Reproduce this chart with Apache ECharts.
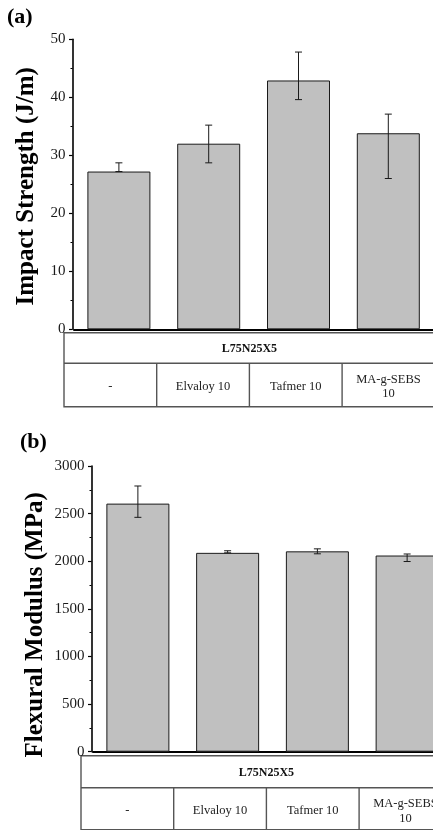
<!DOCTYPE html>
<html>
<head>
<meta charset="utf-8">
<script src="https://cdn.jsdelivr.net/npm/echarts@6/dist/echarts.min.js"></script>
<style>
html,body{margin:0;padding:0;background:#fff;overflow:hidden;}
#chart{width:460px;height:830px;}
</style>
</head>
<body>
<div id="chart"></div>
<script>
// ---- data ----
const categories = ['-', 'Elvaloy 10', 'Tafmer 10', 'MA-g-SEBS 10'];
const tableHeader = 'L75N25X5';
const tableCells = ['-', 'Elvaloy 10', 'Tafmer 10', 'MA-g-SEBS\n10'];

const impactValues = [27.2, 32.0, 42.9, 33.8];
const impactErrLow = [27.2, 28.7, 39.6, 26.0];
const impactErrHigh = [28.7, 35.2, 47.8, 37.1];

const modulusValues = [2605, 2088, 2104, 2060];
const modulusErrLow = [2461, 2088, 2078, 1997];
const modulusErrHigh = [2790, 2110, 2130, 2076];

const impactTicks = {min: 0, max: 50, interval: 10};
const modulusTicks = {min: 0, max: 3000, interval: 500};

// ---- layout ----
const FONT = "'Liberation Serif','Times New Roman',serif";
const G = [
  {left: 74, top: 39.3, width: 359.2, height: 290, tableLeft: 64, tableTop: 332.7, row1: 363.3, bottom: 406.7},
  {left: 93, top: 466, width: 359, height: 285.7, tableLeft: 81, tableTop: 755.7, row1: 787.7, bottom: 829.6}
];
const cellW = 92.7;

function errData(lo, hi) { return lo.map((l, i) => [i, l, hi[i]]); }

function errRender(params, api) {
  const x = api.value(0);
  const lo = api.coord([x, api.value(1)]);
  const hi = api.coord([x, api.value(2)]);
  const cap = 3.5;
  const st = {stroke: '#1a1a1a', lineWidth: 1};
  return {type: 'group', children: [
    {type: 'line', shape: {x1: hi[0], y1: hi[1], x2: lo[0], y2: lo[1]}, style: st},
    {type: 'line', shape: {x1: hi[0]-cap, y1: hi[1], x2: hi[0]+cap, y2: hi[1]}, style: st},
    {type: 'line', shape: {x1: lo[0]-cap, y1: lo[1], x2: lo[0]+cap, y2: lo[1]}, style: st}
  ]};
}

function yAxisCfg(idx, ticks, name, gap, pad) {
  return {
    type: 'value', gridIndex: idx, min: ticks.min, max: ticks.max, interval: ticks.interval,
    offset: 1.5,
    name: name, nameLocation: 'middle', nameGap: gap, nameMoveOverlap: false,
    nameTextStyle: {fontFamily: FONT, fontWeight: 'bold', fontSize: 25, color: '#000', padding: pad},
    axisLine: {show: true, lineStyle: {color: '#000', width: 1.6}},
    axisTick: {show: true, inside: false, length: 3.5, lineStyle: {color: '#000', width: 1.2}},
    minorTick: {show: true, splitNumber: 2, length: 2, lineStyle: {color: '#000', width: 1}},
    splitLine: {show: false},
    axisLabel: {fontFamily: FONT, fontSize: 15, color: '#1a1a1a', margin: 7, formatter: v => String(v)}
  };
}

function xAxisCfg(idx) {
  return {
    type: 'category', gridIndex: idx, data: categories,
    axisLine: {show: true, onZero: false, lineStyle: {color: '#000', width: 2}},
    axisTick: {show: false}, axisLabel: {show: false}, splitLine: {show: false}
  };
}

function tableGraphics(g) {
  const els = [];
  const right = g.tableLeft + cellW * 4;
  const ls = {stroke: '#555', lineWidth: 1.4, fill: null};
  els.push({type: 'rect', shape: {x: g.tableLeft, y: g.tableTop, width: right - g.tableLeft, height: g.bottom - g.tableTop}, style: ls, silent: true});
  els.push({type: 'line', shape: {x1: g.tableLeft, y1: g.row1, x2: right, y2: g.row1}, style: ls, silent: true});
  for (let i = 1; i < 4; i++) {
    const x = g.tableLeft + cellW * i;
    els.push({type: 'line', shape: {x1: x, y1: g.row1, x2: x, y2: g.bottom}, style: ls, silent: true});
  }
  els.push({type: 'text', x: (g.tableLeft + right) / 2, y: (g.tableTop + g.row1) / 2 + 1,
    style: {text: tableHeader, font: 'bold 12px ' + FONT, fill: '#111', align: 'center', verticalAlign: 'middle'}});
  tableCells.forEach((t, i) => {
    els.push({type: 'text', x: g.tableLeft + cellW * (i + 0.5), y: g.row1 + 23.4,
      style: {text: t, font: '12.5px ' + FONT, fill: '#222', align: 'center', verticalAlign: 'middle', lineHeight: 14.5}});
  });
  return els;
}

const chart = echarts.init(document.getElementById('chart'), null, {renderer: 'canvas'});
chart.setOption({
  backgroundColor: '#fff',
  animation: false,
  grid: G.map(g => ({left: g.left, top: g.top, width: g.width, height: g.height, containLabel: false})),
  xAxis: [xAxisCfg(0), xAxisCfg(1)],
  yAxis: [
    yAxisCfg(0, impactTicks, 'Impact Strength (J/m)', 33, [0, 4, 0, 0]),
    yAxisCfg(1, modulusTicks, 'Flexural Modulus (MPa)', 43, [0, 32, 0, 0])
  ],
  series: [
    {type: 'bar', xAxisIndex: 0, yAxisIndex: 0, data: impactValues, barWidth: 63,
     itemStyle: {color: '#c0c0c0', borderColor: '#1a1a1a', borderWidth: 1}},
    {type: 'custom', xAxisIndex: 0, yAxisIndex: 0, data: errData(impactErrLow, impactErrHigh),
     renderItem: errRender, encode: {x: 0, y: [1, 2]}, z: 5},
    {type: 'bar', xAxisIndex: 1, yAxisIndex: 1, data: modulusValues, barWidth: 63,
     itemStyle: {color: '#c0c0c0', borderColor: '#1a1a1a', borderWidth: 1}},
    {type: 'custom', xAxisIndex: 1, yAxisIndex: 1, data: errData(modulusErrLow, modulusErrHigh),
     renderItem: errRender, encode: {x: 0, y: [1, 2]}, z: 5}
  ],
  graphic: [
    {type: 'text', left: 7, top: 6, style: {text: '(a)', font: 'bold 22px ' + FONT, fill: '#000'}},
    {type: 'text', left: 20, top: 431, style: {text: '(b)', font: 'bold 22px ' + FONT, fill: '#000'}},
    ...tableGraphics(G[0]),
    ...tableGraphics(G[1])
  ]
});
</script>
</body>
</html>
